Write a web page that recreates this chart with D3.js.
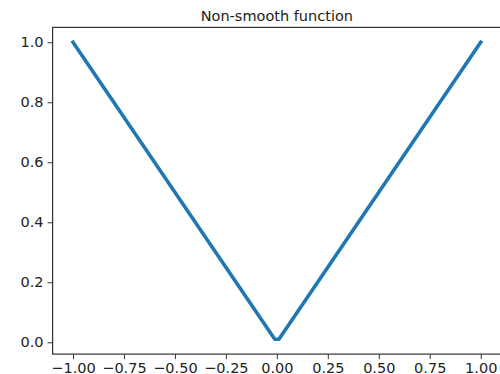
<!DOCTYPE html>
<html>
<head>
<meta charset="utf-8">
<script src="https://cdn.jsdelivr.net/npm/d3@7"></script>
<style>
    body { margin: 0; background: #fff; }
    svg { display: block; }
    .axis text { font-family: "DejaVu Sans", sans-serif; font-size: 14.5px; fill: #222; }
    .axis line { stroke: #333; stroke-width: 1; }
</style>
</head>
<body>
<div class="graph"></div>
<script>
// Values: the V of |x|, with the flat bit at the bottom
const xValues = [-1, -0.0101, 0.0101, 1];
const yValues = [1, 0.0101, 0.0101, 1];
const xTicks = [-1, -0.75, -0.5, -0.25, 0, 0.25, 0.5, 0.75, 1];
const yTicks = [0, 0.2, 0.4, 0.6, 0.8, 1.0];
const titleText = "Non-smooth function";

const dimensions = {
    width: 500,
    height: 374,
    margins: { top: 27.4, right: -1.1, bottom: 19.9, left: 52.6 }
};
dimensions.boundedWidth = dimensions.width - dimensions.margins.left - dimensions.margins.right;
dimensions.boundedHeight = dimensions.height - dimensions.margins.top - dimensions.margins.bottom;

const wrapper = d3.select(".graph")
    .append("svg")
        .attr("width", dimensions.width)
        .attr("height", dimensions.height);

const bounds = wrapper.append("g")
    .attr("transform", `translate(${dimensions.margins.left},${dimensions.margins.top})`);

// matplotlib style: 5% padding around the data
const xScale = d3.scaleLinear()
    .domain([-1.1, 1.1])
    .range([0, dimensions.boundedWidth]);

const yScale = d3.scaleLinear()
    .domain([-0.0394, 1.0495])
    .range([dimensions.boundedHeight, 0]);

const data = xValues.map((x, i) => ({ x: x, y: yValues[i] }));

const lineGenerator = d3.line()
    .x(d => xScale(d.x))
    .y(d => yScale(d.y));

bounds.append("path")
    .attr("d", lineGenerator(data))
    .attr("fill", "none")
    .attr("stroke", "#1f77b4")
    .attr("stroke-width", 3.6)
    .attr("stroke-linejoin", "round")
    .attr("stroke-linecap", "square");

// axes
const xAxis = bounds.append("g")
    .attr("class", "axis")
    .attr("transform", `translate(0,${dimensions.boundedHeight})`)
    .call(d3.axisBottom(xScale).tickValues(xTicks).tickFormat(d3.format(".2f")).tickSize(5).tickPadding(4));

const yAxis = bounds.append("g")
    .attr("class", "axis")
    .call(d3.axisLeft(yScale).tickValues(yTicks).tickFormat(d3.format(".1f")).tickSize(5).tickPadding(4));

xAxis.select(".domain").remove();
yAxis.select(".domain").remove();

// spines
bounds.append("rect")
    .attr("x", 0)
    .attr("y", 0)
    .attr("width", dimensions.boundedWidth)
    .attr("height", dimensions.boundedHeight)
    .attr("fill", "none")
    .attr("stroke", "#333")
    .attr("stroke-width", 1.2);

// title
wrapper.append("text")
    .attr("x", dimensions.margins.left + xScale(0))
    .attr("y", 20.5)
    .attr("text-anchor", "middle")
    .style("font-family", "DejaVu Sans, sans-serif")
    .style("font-size", "14.5px")
    .style("fill", "#222")
    .text(titleText);
</script>
</body>
</html>
